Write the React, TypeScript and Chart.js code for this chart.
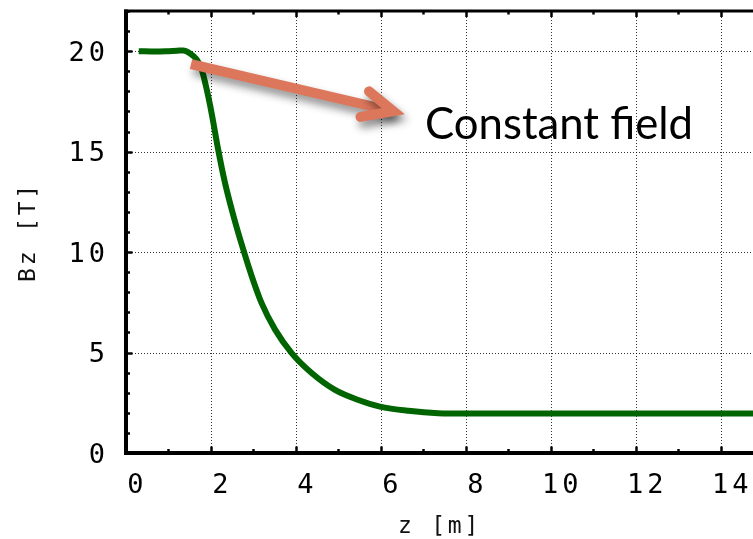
import React, { useEffect, useRef } from 'react';
import { Chart, registerables } from 'chart.js';

Chart.register(...registerables);

// ---- data ----
const zValues = [0.3, 0.7, 1.0, 1.2, 1.35, 1.5, 1.66, 1.78, 1.9, 1.98, 2.06, 2.17, 2.33, 2.53, 2.76, 2.96, 3.19, 3.51, 3.9, 4.37, 4.92, 5.47, 5.98, 6.65, 7.35, 8.0, 10.0, 12.0, 14.0, 15.0];
const bzValues = [20.0, 19.98, 20.0, 20.02, 20.04, 19.9, 19.6, 19.1, 18.1, 17.3, 16.4, 15.1, 13.45, 11.8, 10.13, 8.8, 7.47, 6.14, 4.97, 3.98, 3.14, 2.64, 2.31, 2.1, 1.98, 1.96, 1.96, 1.96, 1.96, 1.96];
const xTickValues = [0, 2, 4, 6, 8, 10, 12, 14];
const yTickValues = [0, 5, 10, 15, 20];
const xTitle = 'z [m]';
const yTitle = 'Bz [T]';
const annotationText = 'Constant field';
// annotation anchor points, in data units (z, Bz)
const arrowStart = [1.53, 19.36];
const arrowTip = [6.29, 17.01];
const arrowArmUpper = [5.72, 18.0];
const arrowArmLower = [5.52, 16.73];
const textAnchor = [7.04, 15.61];

const MONO = '"DejaVu Sans Mono", monospace';

const framePlugin = {
  id: 'gnuFrame',
  beforeDraw(chart: any) {
    chart.ctx.letterSpacing = '2.8px';
  },
  beforeDatasetsDraw(chart: any) {
    const { ctx, chartArea, scales } = chart;
    const { left, right, top, bottom } = chartArea;
    const x = scales.x, y = scales.y;
    ctx.save();
    ctx.strokeStyle = 'rgba(0,0,0,0.8)';
    ctx.lineWidth = 1;
    ctx.setLineDash([1, 2]);
    for (const v of xTickValues) {
      if (v <= 0) continue;
      const px = Math.round(x.getPixelForValue(v)) + 0.5;
      ctx.beginPath(); ctx.moveTo(px, top); ctx.lineTo(px, bottom); ctx.stroke();
    }
    for (const v of yTickValues) {
      if (v <= 0) continue;
      const py = Math.round(y.getPixelForValue(v)) + 0.5;
      ctx.beginPath(); ctx.moveTo(left, py); ctx.lineTo(right, py); ctx.stroke();
    }
    ctx.restore();
  },
  afterDatasetsDraw(chart: any) {
    const { ctx, chartArea, scales } = chart;
    const { left, right, top, bottom } = chartArea;
    const x = scales.x, y = scales.y;
    ctx.save();
    ctx.setLineDash([]);
    ctx.strokeStyle = '#000';
    ctx.lineCap = 'butt';
    // frame
    ctx.lineWidth = 4;
    ctx.beginPath(); ctx.moveTo(left, top - 1.5); ctx.lineTo(left, bottom + 2); ctx.stroke();
    ctx.beginPath(); ctx.moveTo(left - 2, bottom); ctx.lineTo(right, bottom); ctx.stroke();
    ctx.lineWidth = 3;
    ctx.beginPath(); ctx.moveTo(left - 2, top); ctx.lineTo(right, top); ctx.stroke();
    // x ticks (bottom & top)
    ctx.lineWidth = 2.5;
    const xMax = x.max;
    for (let v = 1; v <= xMax; v += 1) {
      const major = v % 2 === 0;
      const px = Math.round(x.getPixelForValue(v)) + 0.5;
      const lb = major ? 6.5 : 4;
      ctx.beginPath(); ctx.moveTo(px, bottom); ctx.lineTo(px, bottom - lb); ctx.stroke();
      const lt = major ? 6 : 3.5;
      ctx.beginPath(); ctx.moveTo(px, top); ctx.lineTo(px, top + lt); ctx.stroke();
    }
    // y ticks (left)
    for (let v = 1; v <= y.max; v += 1) {
      const major = v % 5 === 0;
      const py = Math.round(y.getPixelForValue(v)) + 0.5;
      const l = major ? 6.5 : 4;
      ctx.beginPath(); ctx.moveTo(left, py); ctx.lineTo(left + l, py); ctx.stroke();
    }
    // arrow annotation
    const P = (p: number[]) => [x.getPixelForValue(p[0]), y.getPixelForValue(p[1])];
    const s = P(arrowStart), t = P(arrowTip), a1 = P(arrowArmUpper), a2 = P(arrowArmLower);
    ctx.strokeStyle = '#DC775B';
    ctx.lineWidth = 10;
    ctx.shadowColor = 'rgba(0,0,0,0.45)';
    ctx.shadowBlur = 9;
    ctx.shadowOffsetX = 3;
    ctx.shadowOffsetY = 6;
    ctx.lineJoin = 'miter';
    ctx.lineCap = 'butt';
    ctx.beginPath(); ctx.moveTo(s[0], s[1]); ctx.lineTo(t[0], t[1]); ctx.stroke();
    ctx.lineCap = 'round';
    ctx.beginPath(); ctx.moveTo(a1[0], a1[1]); ctx.lineTo(t[0], t[1]); ctx.lineTo(a2[0], a2[1]); ctx.stroke();
    ctx.restore();

    // text annotation
    ctx.save();
    ctx.letterSpacing = '0px';
    ctx.font = '44px Lato, "Open Sans", sans-serif';
    ctx.fillStyle = '#000';
    ctx.textBaseline = 'alphabetic';
    ctx.textAlign = 'left';
    const tp = P(textAnchor);
    const w = ctx.measureText(annotationText).width;
    const target = 268;
    ctx.translate(tp[0], tp[1]);
    ctx.scale(target / w, 1);
    ctx.fillText(annotationText, 0, 0);
    ctx.restore();

    // tick labels are drawn after this hook (ticks.z = 1)
    ctx.letterSpacing = '4px';
  },
};

export default function App() {
  const ref = useRef<HTMLCanvasElement>(null);
  useEffect(() => {
    if (!ref.current) return;
    const chart = new Chart(ref.current, {
      type: 'line',
      data: {
        datasets: [
          {
            data: zValues.map((z, i) => ({ x: z, y: bzValues[i] })),
            borderColor: '#006400',
            borderWidth: 6,
            pointRadius: 0,
            fill: false,
            cubicInterpolationMode: 'monotone',
            borderCapStyle: 'butt',
            borderJoinStyle: 'round',
          },
        ],
      },
      options: {
        animation: false,
        responsive: false,
        devicePixelRatio: 1,
        events: [],
        layout: { autoPadding: false, padding: { top: 11, left: 0, right: 0, bottom: 0 } },
        plugins: { legend: { display: false }, tooltip: { enabled: false } },
        scales: {
          x: {
            type: 'linear',
            position: 'bottom',
            min: 0,
            max: 14.76,
            afterBuildTicks: (s: any) => { s.ticks = xTickValues.map((v) => ({ value: v })); },
            afterFit: (s: any) => { s.height = 86; s.paddingLeft = 0; s.paddingRight = 0; },
            grid: { display: false, drawTicks: false },
            border: { display: false },
            ticks: {
              z: 1,
              autoSkip: false,
              maxRotation: 0,
              minRotation: 0,
              labelOffset: 11.5,
              padding: 19,
              color: '#000',
              font: { family: MONO, size: 27, lineHeight: 1 },
            },
            title: {
              display: true,
              text: xTitle,
              color: '#111',
              padding: 0,
              font: { family: MONO, size: 23, lineHeight: 1 },
            },
          },
          y: {
            type: 'linear',
            position: 'left',
            min: 0,
            max: 22,
            afterBuildTicks: (s: any) => { s.ticks = yTickValues.map((v) => ({ value: v })); },
            afterFit: (s: any) => { s.width = 126; s.paddingTop = 0; s.paddingBottom = 0; },
            grid: { display: false, drawTicks: false },
            border: { display: false },
            ticks: {
              z: 1,
              autoSkip: false,
              padding: 17,
              labelOffset: 2.5,
              color: '#000',
              font: { family: MONO, size: 27, lineHeight: 1 },
            },
            title: {
              display: true,
              text: yTitle,
              color: '#111',
              padding: { top: 17.5, bottom: 0 },
              font: { family: MONO, size: 23, lineHeight: 1 },
            },
          },
        },
      },
      plugins: [framePlugin],
    } as any);
    return () => chart.destroy();
  }, []);
  return (
    <div style={{ position: 'fixed', left: 0, top: 0, width: 753, height: 539, background: '#fff' }}>
      <canvas ref={ref} width={753} height={539} style={{ display: 'block' }} />
    </div>
  );
}
